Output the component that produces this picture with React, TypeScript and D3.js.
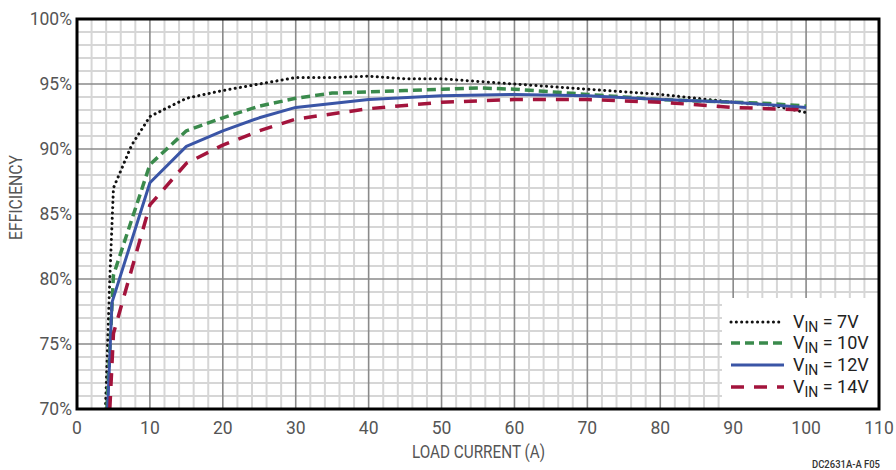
import React from "react";
import * as d3 from "d3";

const xTicks = [0, 10, 20, 30, 40, 50, 60, 70, 80, 90, 100, 110];
const yTicks = [70, 75, 80, 85, 90, 95, 100];
const yTickLabels = ["70%", "75%", "80%", "85%", "90%", "95%", "100%"];

const v7X = [3.9, 4.5, 5, 7.5, 10, 15, 20, 25, 30, 35, 40, 45, 50, 55, 60, 65, 70, 75, 80, 85, 90, 95, 100];
const v7Y = [70, 80, 87, 90.3, 92.5, 93.9, 94.5, 95.0, 95.5, 95.5, 95.6, 95.4, 95.4, 95.2, 95.0, 94.8, 94.6, 94.4, 94.2, 93.9, 93.6, 93.4, 92.8];

const v10X = [4.1, 5, 10, 15, 20, 25, 30, 35, 40, 45, 50, 55, 60, 65, 70, 75, 80, 85, 90, 95, 100];
const v10Y = [70, 80.3, 88.8, 91.4, 92.4, 93.3, 93.9, 94.3, 94.4, 94.5, 94.6, 94.7, 94.6, 94.4, 94.2, 94.0, 93.8, 93.7, 93.6, 93.5, 93.3];

const v12X = [4.2, 4.8, 10, 15, 20, 25, 30, 40, 50, 60, 70, 80, 90, 100];
const v12Y = [70, 78.2, 87.4, 90.2, 91.4, 92.4, 93.2, 93.8, 94.1, 94.2, 94.1, 93.8, 93.6, 93.2];

const v14X = [4.5, 5, 10, 15, 20, 25, 30, 40, 50, 60, 70, 80, 90, 100];
const v14Y = [70, 75.8, 85.7, 88.9, 90.3, 91.4, 92.3, 93.1, 93.6, 93.8, 93.8, 93.6, 93.2, 93.0];

const seriesNames = ["7V", "10V", "12V", "14V"];

const FONT = "Roboto, 'Liberation Sans', sans-serif";
const TEXT = "#555";

export default function App() {
  const L = 77, R = 879, T = 19, B = 409;
  const x = d3.scaleLinear().domain([0, 110]).range([L, R]);
  const y = d3.scaleLinear().domain([70, 100]).range([B, T]);
  const line = d3.line<[number, number]>().x(d => x(d[0])).y(d => y(d[1]));
  const mk = (xs: number[], ys: number[]) => xs.map((v, i) => [v, ys[i]] as [number, number]);

  const series = [
    { d: mk(v7X, v7Y), stroke: "#111", w: 3, dash: "0.1 5.2", cap: "round" },
    { d: mk(v10X, v10Y), stroke: "#3a8a4c", w: 3.5, dash: "9 5", cap: "butt" },
    { d: mk(v12X, v12Y), stroke: "#3a55a6", w: 3, dash: "", cap: "butt" },
    { d: mk(v14X, v14Y), stroke: "#a3143c", w: 3.5, dash: "13 10", cap: "butt" },
  ];

  const minorX = d3.range(0, 111, 2).filter(v => v % 10 !== 0);
  const minorY = d3.range(70, 101, 1).filter(v => v % 5 !== 0);

  const lgX = 722, lgY = 298, lgW = 156, lgH = 110;
  const rowY = [322, 343, 365, 387];

  return (
    <svg width={896} height={470} style={{ position: "absolute", left: 0, top: 0 }} fontFamily={FONT}>
      <rect x={0} y={0} width={896} height={470} fill="#fff" />
      {minorX.map(v => (
        <line key={"mx" + v} x1={x(v)} x2={x(v)} y1={T} y2={B} stroke="#d6d6d6" strokeWidth={2} />
      ))}
      {minorY.map(v => (
        <line key={"my" + v} x1={L} x2={R} y1={y(v)} y2={y(v)} stroke="#d6d6d6" strokeWidth={2} />
      ))}
      {xTicks.map(v => (
        <line key={"Mx" + v} x1={x(v)} x2={x(v)} y1={T} y2={B} stroke="#8a8a8a" strokeWidth={1.6} />
      ))}
      {yTicks.map(v => (
        <line key={"My" + v} x1={L} x2={R} y1={y(v)} y2={y(v)} stroke="#8a8a8a" strokeWidth={1.6} />
      ))}
      <defs>
        <clipPath id="clip"><rect x={L} y={T} width={R - L} height={B - T} /></clipPath>
      </defs>
      <g clipPath="url(#clip)">
        {series.map((s, i) => (
          <path key={i} d={line(s.d) || ""} fill="none" stroke={s.stroke} strokeWidth={s.w}
            strokeDasharray={s.dash || undefined} strokeLinecap={s.cap as any} strokeLinejoin="round" />
        ))}
      </g>
      <rect x={lgX} y={lgY} width={lgW} height={lgH} fill="#fff" />
      {series.map((s, i) => (
        <g key={"lg" + i}>
          <line x1={731} x2={784} y1={rowY[i]} y2={rowY[i]} stroke={s.stroke} strokeWidth={s.w}
            strokeDasharray={s.dash || undefined} strokeLinecap={s.cap as any} />
          <text x={793} y={rowY[i] + 6} fontSize={18} fill="#222">
            V<tspan fontSize={14} dy={4}>IN</tspan><tspan dy={-4}>{" = " + seriesNames[i]}</tspan>
          </text>
        </g>
      ))}
      <rect x={L} y={T} width={R - L} height={B - T} fill="none" stroke="#000" strokeWidth={3} />
      {yTicks.map((v, i) => (
        <text key={"yl" + v} x={72} y={y(v) + 6} textAnchor="end" fontSize={17.5} fill={TEXT}>{yTickLabels[i]}</text>
      ))}
      {xTicks.map(v => (
        <text key={"xl" + v} x={x(v)} y={434} textAnchor="middle" fontSize={17.5} fill={TEXT}>{v}</text>
      ))}
      <text x={412} y={458} fontSize={17.5} fill={TEXT} textLength={133} lengthAdjust="spacingAndGlyphs">LOAD CURRENT (A)</text>
      <text transform={`translate(22,240) rotate(-90)`} fontSize={17.5} fill={TEXT} textLength={85} lengthAdjust="spacingAndGlyphs">EFFICIENCY</text>
      <text x={812} y={468} fontSize={11} fontWeight={500} fill="#333" textLength={68} lengthAdjust="spacingAndGlyphs">DC2631A-A F05</text>
    </svg>
  );
}
